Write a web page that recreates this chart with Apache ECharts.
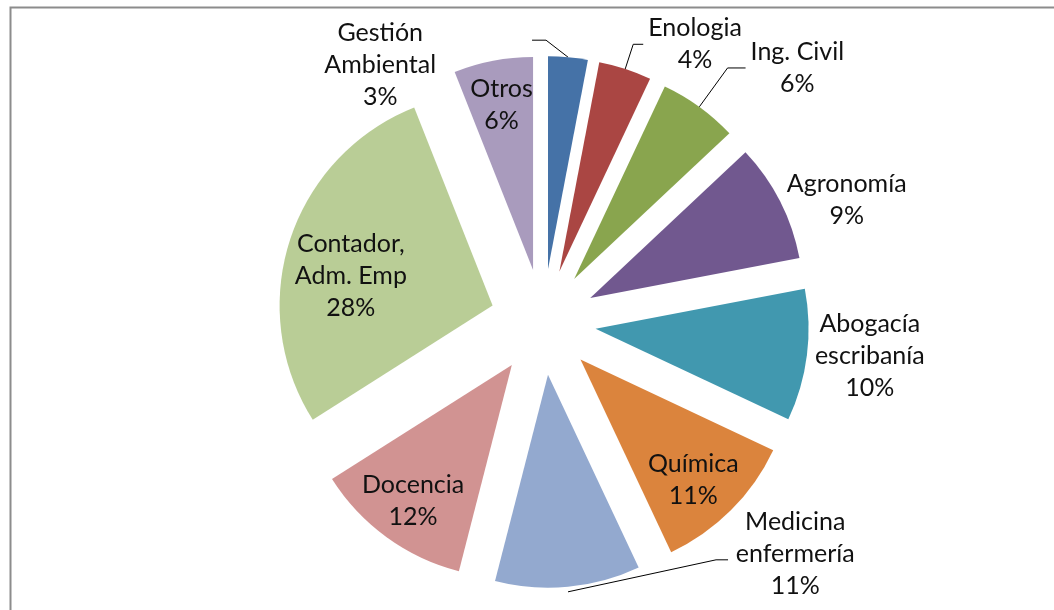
<!DOCTYPE html>
<html>
<head>
<meta charset="utf-8">
<style>
  html, body { margin: 0; padding: 0; background: #fff; }
  #chart { width: 1054px; height: 610px; }
</style>
</head>
<body>
<div id="chart"></div>
<script src="https://cdn.jsdelivr.net/npm/echarts@6/dist/echarts.min.js"></script>
<script>
// carreras, desde las 12 en sentido horario
const categories = ['Gestión\nAmbiental', 'Enologia', 'Ing. Civil', 'Agronomía', 'Abogacía\nescribanía',
  'Química', 'Medicina\nenfermería', 'Docencia', 'Contador,\nAdm. Emp', 'Otros'];
const values = [3, 4, 6, 9, 10, 11, 11, 12, 28, 6];
const colors = ['#4572A7', '#AA4643', '#89A54E', '#71588F', '#4198AF',
  '#DB843D', '#93A9CF', '#D19392', '#B9CD96', '#A99BBD'];
const insideLabels = ['Química', 'Docencia', 'Contador,\nAdm. Emp', 'Otros'];

// largo de las líneas guía por etiqueta exterior
const outerLines = {
  'Gestión\nAmbiental': [2, 0],
  'Enologia': [26, 10],
  'Ing. Civil': [48, 18],
  'Agronomía': [2, 0],
  'Abogacía\nescribanía': [3, 0],
  'Medicina\nenfermería': [2, 0]
};

const chart = echarts.init(document.getElementById('chart'));

const fmt = function (p) {
  return p.name.split('\n').concat(p.value + '%').map(function (s) { return '{c|' + s + '}'; }).join('\n');
};
const rich = { c: { align: 'center', fontSize: 25, lineHeight: 32, color: '#111', fontFamily: 'Lato' } };

const center = [543, 322];
const offset = 53;

const mainData = categories.map(function (name, i) {
  const outer = outerLines[name];
  return {
    name: name,
    value: values[i],
    selected: true,
    itemStyle: { color: colors[i] },
    label: { show: !!outer },
    labelLine: outer ? {
      show: name === 'Enologia' || name === 'Ing. Civil' || name === 'Gestión\nAmbiental' || name === 'Medicina\nenfermería',
      length: outer[0],
      length2: outer[1]
    } : { show: false }
  };
});

const ghostData = categories.map(function (name, i) {
  return {
    name: name,
    value: values[i],
    selected: true,
    itemStyle: { color: 'rgba(0,0,0,0)' },
    label: { show: insideLabels.indexOf(name) >= 0 }
  };
});

chart.setOption({
  animation: false,
  backgroundColor: '#fff',
  graphic: [{
    type: 'rect',
    left: 8, top: 5,
    shape: { width: 1100, height: 700 },
    style: { fill: 'none', stroke: '#8c8c8c', lineWidth: 2 },
    silent: true
  }],
  series: [
    {
      type: 'pie',
      center: center,
      radius: 213,
      startAngle: 90,
      clockwise: true,
      selectedMode: 'multiple',
      selectedOffset: offset,
      avoidLabelOverlap: false,
      emphasis: { disabled: true },
      label: {
        position: 'outside',
        formatter: fmt,
        rich: rich,
        distanceToLabelLine: 5
      },
      labelLine: { lineStyle: { color: '#000', width: 1 } },
      labelLayout: function (p) {
        const pts = p.labelLinePoints;
        if (p.dataIndex === 0 && pts) {
          const s = pts[0];
          return {
            dx: -193, dy: 10, align: 'center', verticalAlign: 'middle',
            labelLinePoints: [s, [s[0] - 22, s[1] - 17], [s[0] - 36, s[1] - 17]]
          };
        }
        if (p.dataIndex === 6 && pts) {
          const s = pts[0];
          return {
            dx: 222, dy: -35, align: 'center', verticalAlign: 'middle',
            labelLinePoints: [[s[0], s[1] + 5], [s[0] + 148, s[1] - 27], [s[0] + 160, s[1] - 27]]
          };
        }
      },
      data: mainData
    },
    {
      // serie invisible, sólo para ubicar las etiquetas interiores más afuera
      type: 'pie',
      silent: true,
      center: center,
      radius: 330,
      startAngle: 90,
      clockwise: true,
      selectedMode: 'multiple',
      selectedOffset: offset,
      emphasis: { disabled: true },
      label: { position: 'inside', formatter: fmt, rich: rich },
      labelLine: { show: false },
      labelLayout: function (p) {
        if (p.dataIndex === 8) return { dx: 18, dy: 22 };
        if (p.dataIndex === 5) return { dx: -6, dy: 2 };
      },
      data: ghostData
    }
  ]
});

window.addEventListener('resize', function () { chart.resize(); });
</script>
</body>
</html>
